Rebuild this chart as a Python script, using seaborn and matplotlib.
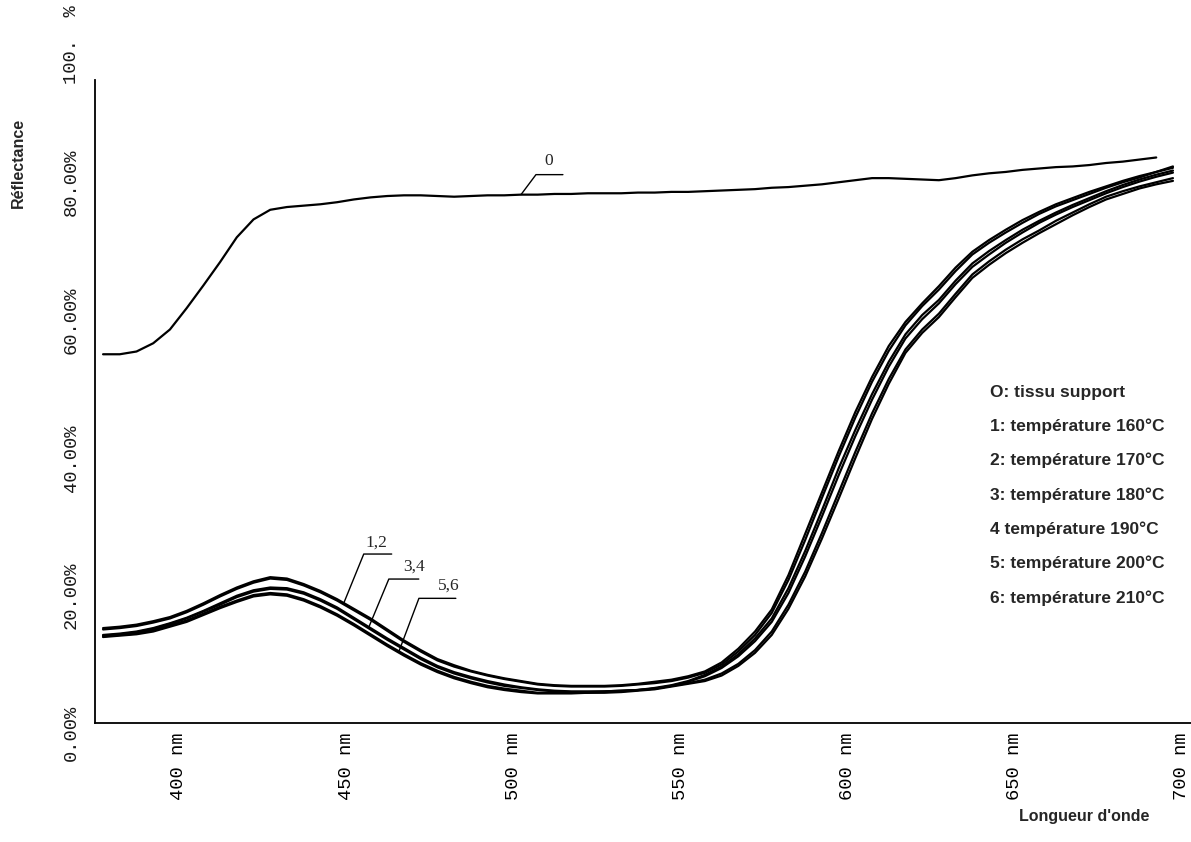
import numpy as np
import pandas as pd
import matplotlib
matplotlib.use("Agg")
import matplotlib.pyplot as plt
import matplotlib.transforms as mtransforms
import seaborn as sns

# Wavelength grid (nm) for the treated samples, 5 nm steps
wl = list(range(380, 705, 5))

# Support fabric (curve 0) stops at 695 nm
wl_support = list(range(380, 700, 5))
r_support = [53.6, 53.6, 54.0, 55.2, 57.2, 60.3, 63.6, 67.0, 70.6, 73.2,
             74.6, 75.0, 75.2, 75.4, 75.7, 76.1, 76.4, 76.6, 76.7, 76.7,
             76.6, 76.5, 76.6, 76.7, 76.7, 76.8, 76.8, 76.9, 76.9, 77.0,
             77.0, 77.0, 77.1, 77.1, 77.2, 77.2, 77.3, 77.4, 77.5, 77.6,
             77.8, 77.9, 78.1, 78.3, 78.6, 78.9, 79.2, 79.2, 79.1, 79.0,
             78.9, 79.2, 79.6, 79.9, 80.1, 80.4, 80.6, 80.8, 80.9, 81.1,
             81.4, 81.6, 81.9, 82.2]

# Reflectance (%) of the printed samples, one list per fixation temperature
r_160 = [13.8, 14.0, 14.3, 14.8, 15.4, 16.3, 17.4, 18.6, 19.7, 20.6,
         21.2, 21.0, 20.2, 19.2, 18.0, 16.6, 15.2, 13.6, 12.0, 10.6,
         9.3, 8.4, 7.6, 7.0, 6.5, 6.1, 5.7, 5.5, 5.4, 5.4,
         5.4, 5.5, 5.7, 6.0, 6.3, 6.8, 7.5, 8.8, 10.8, 13.3,
         16.5, 21.5, 27.5, 33.5, 39.5, 45.2, 50.3, 54.8, 58.3, 61.0,
         63.5, 66.2, 68.5, 70.2, 71.7, 73.1, 74.3, 75.4, 76.3, 77.2,
         78.0, 78.8, 79.5, 80.1, 80.7]
r_170 = [13.6, 13.8, 14.1, 14.6, 15.2, 16.1, 17.2, 18.4, 19.5, 20.4,
         21.0, 20.8, 20.0, 19.0, 17.8, 16.4, 15.0, 13.4, 11.8, 10.4,
         9.1, 8.2, 7.5, 6.9, 6.4, 6.0, 5.6, 5.4, 5.3, 5.3,
         5.3, 5.4, 5.6, 5.8, 6.1, 6.6, 7.3, 8.5, 10.4, 12.8,
         16.0, 20.8, 26.6, 32.7, 38.7, 44.4, 49.6, 54.1, 57.8, 60.6,
         63.0, 65.7, 68.1, 69.8, 71.3, 72.7, 74.0, 75.1, 76.0, 76.9,
         77.8, 78.6, 79.3, 80.1, 80.9]
r_180 = [12.8, 13.0, 13.3, 13.8, 14.5, 15.3, 16.3, 17.4, 18.5, 19.3,
         19.7, 19.6, 19.0, 18.0, 16.8, 15.3, 13.8, 12.3, 10.9, 9.5,
         8.3, 7.4, 6.7, 6.1, 5.6, 5.2, 4.9, 4.7, 4.6, 4.6,
         4.6, 4.7, 4.8, 5.1, 5.5, 6.1, 7.0, 8.2, 10.0, 12.3,
         15.2, 19.6, 25.0, 30.9, 37.0, 42.6, 47.8, 52.5, 56.5, 59.3,
         61.5, 64.3, 66.8, 68.6, 70.2, 71.7, 73.0, 74.2, 75.3, 76.3,
         77.3, 78.2, 79.0, 79.7, 80.3]
r_190 = [12.7, 12.9, 13.2, 13.7, 14.4, 15.2, 16.2, 17.2, 18.3, 19.1,
         19.5, 19.4, 18.8, 17.8, 16.6, 15.1, 13.6, 12.1, 10.7, 9.3,
         8.1, 7.2, 6.5, 5.9, 5.4, 5.1, 4.8, 4.6, 4.5, 4.5,
         4.6, 4.7, 4.8, 5.0, 5.4, 6.0, 6.8, 8.0, 9.7, 11.9,
         14.7, 18.9, 24.2, 30.0, 36.0, 41.7, 47.0, 51.8, 55.9, 58.7,
         61.0, 63.8, 66.3, 68.1, 69.8, 71.3, 72.7, 73.9, 75.0, 76.0,
         77.0, 77.9, 78.7, 79.4, 80.0]
r_200 = [12.6, 12.8, 13.0, 13.5, 14.2, 14.9, 15.9, 16.9, 17.8, 18.6,
         18.9, 18.7, 18.0, 17.0, 15.8, 14.4, 12.9, 11.4, 10.0, 8.7,
         7.6, 6.7, 6.0, 5.4, 5.0, 4.7, 4.4, 4.4, 4.4, 4.4,
         4.5, 4.6, 4.8, 5.0, 5.4, 5.8, 6.3, 7.2, 8.6, 10.6,
         13.3, 17.2, 22.0, 27.6, 33.5, 39.4, 45.0, 50.0, 54.3, 57.2,
         59.5, 62.4, 65.2, 67.1, 68.8, 70.3, 71.6, 73.0, 74.2, 75.4,
         76.5, 77.3, 78.0, 78.6, 79.2]
r_210 = [12.5, 12.7, 12.9, 13.3, 14.0, 14.7, 15.7, 16.7, 17.6, 18.4,
         18.7, 18.5, 17.8, 16.8, 15.6, 14.2, 12.7, 11.2, 9.8, 8.5,
         7.4, 6.5, 5.8, 5.2, 4.8, 4.5, 4.3, 4.3, 4.3, 4.4,
         4.4, 4.5, 4.7, 4.9, 5.3, 5.7, 6.1, 6.9, 8.3, 10.2,
         12.8, 16.6, 21.3, 26.8, 32.6, 38.5, 44.2, 49.3, 53.8, 56.7,
         59.0, 61.9, 64.7, 66.6, 68.3, 69.8, 71.2, 72.5, 73.8, 75.0,
         76.1, 76.9, 77.7, 78.3, 78.8]

series_names = ["0", "1", "2", "3", "4", "5", "6"]
legend_lines = ["O: tissu support",
                "1: température 160°C",
                "2: température 170°C",
                "3: température 180°C",
                "4 température 190°C",
                "5: température 200°C",
                "6: température 210°C"]

y_ticks = [0, 20, 40, 60, 80, 100]
y_ticklabels = ["0.00%", "20.00%", "40.00%", "60.00%", "80.00%", "100.  %"]
x_ticks = [400, 450, 500, 550, 600, 650, 700]
x_ticklabels = ["400 nm", "450 nm", "500 nm", "550 nm", "600 nm", "650 nm", "700 nm"]

# Long-form table for seaborn
frames = [pd.DataFrame({"nm": wl_support, "R": r_support, "courbe": "0"})]
for name, vals in zip(series_names[1:], [r_160, r_170, r_180, r_190, r_200, r_210]):
    frames.append(pd.DataFrame({"nm": wl, "R": vals, "courbe": name}))
df = pd.concat(frames, ignore_index=True)

sns.set_style("white")
plt.rcParams["font.family"] = ["Liberation Sans", "DejaVu Sans"]

fig = plt.figure(figsize=(11.91, 8.42), dpi=100)
ax = fig.add_axes([0.0798, 0.1413, 0.9202, 0.8171])

sns.lineplot(data=df, x="nm", y="R", units="courbe", estimator=None,
             color="black", linewidth=1.6, ax=ax, legend=False, sort=False)

ax.set_xlim(377.6, 705.4)
ax.set_ylim(0, 100)
for side in ("top", "right"):
    ax.spines[side].set_visible(False)
ax.spines["left"].set_bounds(0, 93.5)
for side in ("left", "bottom"):
    ax.spines[side].set_color("black")
    ax.spines[side].set_linewidth(1.3)

ax.set_xlabel("")
ax.set_ylabel("")

ax.set_yticks(y_ticks)
ax.set_yticklabels(y_ticklabels, rotation=90, va="center",
                   fontfamily="Liberation Mono", fontsize=13.5, color="#1a1a1a")
ax.tick_params(axis="y", length=0, pad=11)
ydown = mtransforms.ScaledTranslation(0, -10 / 100, fig.dpi_scale_trans)
for lab in ax.get_yticklabels():
    lab.set_transform(lab.get_transform() + ydown)

ax.set_xticks(x_ticks)
ax.set_xticklabels(x_ticklabels, rotation=90, ha="center", va="top",
                   fontfamily="Liberation Mono", fontsize=13.5, color="#1a1a1a")
ax.tick_params(axis="x", direction="inout", length=7, width=1.3, pad=3,
               colors="black")
shift = mtransforms.ScaledTranslation(9 / 100, 0, fig.dpi_scale_trans)
for lab in ax.get_xticklabels():
    lab.set_transform(lab.get_transform() + shift)

# Axis titles
fig.text(18 / 1191, 1 - 163 / 842, "Réflectance", rotation=90, ha="center",
         va="center", fontsize=11.5, fontweight="bold")
fig.text(1084 / 1191, 1 - 816 / 842, "Longueur d'onde", ha="center",
         va="center", fontsize=11.5, fontweight="bold")

# Key to the curve numbers
for i, line in enumerate(legend_lines):
    fig.text(990 / 1191, 1 - (392 + 34.3 * i) / 842, line, ha="left",
             va="center", fontsize=12.5, fontweight="bold")

# Leader labels: anchor on a curve, elbow offset and horizontal bar (px)
px_nm = 50 / 167.5
px_pct = 1 / 6.88
leaders = [
    ("0", wl_support, r_support, 505.0, 15, 20, 27, 13, 14),
    ("1,2", wl, r_160, 452.0, 20, 49, 28, 13, 11),
    ("3,4", wl, r_180, 459.5, 20, 48, 30, 25, 12),
    ("5,6", wl, r_200, 468.5, 20, 53, 37, 30, 13),
]
for text, xs, ys, x0, dx, dy, w, tx, ty in leaders:
    y0 = float(np.interp(x0, xs, ys))
    x1, y1 = x0 + dx * px_nm, y0 + dy * px_pct
    x2 = x1 + w * px_nm
    ax.plot([x0, x1, x2], [y0, y1, y1], color="black", linewidth=1.0)
    ax.text(x1 + tx * px_nm, y1 + ty * px_pct, text, ha="center",
            va="center", fontsize=12.5, fontfamily="Liberation Serif")

fig.savefig("out.png", dpi=100, facecolor="white")
